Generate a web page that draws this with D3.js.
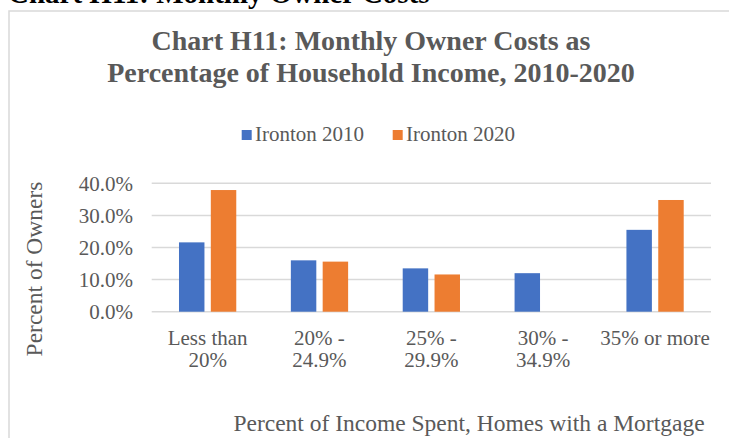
<!DOCTYPE html>
<html>
<head>
<meta charset="utf-8">
<script src="https://cdn.jsdelivr.net/npm/d3@7/dist/d3.min.js"></script>
<style>
  html, body { margin: 0; padding: 0; background: #ffffff; }
  svg { display: block; }
  text { font-family: "Liberation Serif", "Times New Roman", serif; }
</style>
</head>
<body>
<svg id="chart" width="729" height="438"></svg>
<script>
// ---- data ----
const categories = ["Less than\n20%", "20% -\n24.9%", "25% -\n29.9%", "30% -\n34.9%", "35% or more"];
const seriesNames = ["Ironton 2010", "Ironton 2020"];
const ironton2010 = [0.216, 0.160, 0.135, 0.120, 0.255];
const ironton2020 = [0.379, 0.156, 0.116, null, 0.348];
const yTicks = [0, 0.1, 0.2, 0.3, 0.4];
const colors = ["#4472C4", "#ED7D31"];

const pageHeading = "Chart H11: Monthly Owner Costs";
const titleLines = ["Chart H11: Monthly Owner Costs as", "Percentage of Household Income, 2010-2020"];
const yTitle = "Percent of Owners";
const xTitle = "Percent of Income Spent, Homes with a Mortgage";

const table = categories.map((c, i) => ({
  cat: c,
  values: [ironton2010[i], ironton2020[i]]
}));

// ---- layout ----
const svg = d3.select("#chart");
const W = 729, H = 438;
const plot = { left: 151.7, right: 711, top: 183.3, bottom: 311.7 };
const textColor = "#595959";
const gridColor = "#d9d9d9";

svg.append("rect").attr("width", W).attr("height", H).attr("fill", "#fff");

// page heading (cut off at top)
svg.append("text")
  .attr("x", 8).attr("y", 3)
  .attr("font-size", 29).attr("font-weight", "bold")
  .attr("fill", "#000")
  .text(pageHeading);

// chart frame (left and top edges visible)
svg.append("path")
  .attr("d", `M9,${H} L9,11 L${W},11`)
  .attr("fill", "none")
  .attr("stroke", gridColor)
  .attr("stroke-width", 1.5);

// title
const title = svg.append("text")
  .attr("text-anchor", "middle")
  .attr("font-size", 28).attr("font-weight", "bold")
  .attr("fill", textColor);
titleLines.forEach((t, i) => {
  title.append("tspan").attr("x", 371).attr("y", 50 + i * 32).text(t);
});

// scales
const x0 = d3.scaleBand()
  .domain(categories)
  .range([plot.left, plot.right])
  .paddingInner(0.488)
  .paddingOuter(0.244);
const x1 = d3.scaleBand()
  .domain([0, 1])
  .range([0, x0.bandwidth()])
  .paddingInner(0.2);
const y = d3.scaleLinear()
  .domain([0, 0.4])
  .range([plot.bottom, plot.top]);

// gridlines
svg.append("g")
  .selectAll("line")
  .data(yTicks)
  .join("line")
  .attr("x1", plot.left).attr("x2", plot.right)
  .attr("y1", d => y(d)).attr("y2", d => y(d))
  .attr("stroke", gridColor)
  .attr("stroke-width", 1.5);

// y axis
const yAxis = svg.append("g")
  .attr("transform", `translate(${plot.left},0)`)
  .call(d3.axisLeft(y).tickValues(yTicks).tickFormat(d3.format(".1%")).tickSize(0).tickPadding(18.7));
yAxis.select(".domain").remove();
yAxis.selectAll("text")
  .attr("font-family", "'Liberation Serif', 'Times New Roman', serif")
  .attr("font-size", 21)
  .attr("fill", textColor)
  .attr("dy", "0.34em");

// bars
const groups = svg.append("g")
  .selectAll("g")
  .data(table)
  .join("g")
  .attr("transform", d => `translate(${x0(d.cat)},0)`);
groups.selectAll("rect")
  .data(d => d.values.map((v, k) => ({ k, v })).filter(e => e.v != null))
  .join("rect")
  .attr("x", e => x1(e.k))
  .attr("width", x1.bandwidth())
  .attr("y", e => y(e.v))
  .attr("height", e => y(0) - y(e.v))
  .attr("fill", e => colors[e.k]);

// x axis
const xAxis = svg.append("g")
  .attr("transform", `translate(0,${plot.bottom})`)
  .call(d3.axisBottom(x0).tickSize(0).tickFormat(""));
xAxis.select(".domain").remove();
xAxis.selectAll(".tick").each(function(d) {
  const t = d3.select(this).select("text")
    .attr("font-family", "'Liberation Serif', 'Times New Roman', serif")
    .attr("font-size", 21)
    .attr("fill", textColor)
    .attr("y", 0).attr("dy", null);
  d.split("\n").forEach((line, i) => {
    t.append("tspan").attr("x", 0).attr("y", 33.3 + i * 21.7).text(line);
  });
});

// axis titles
svg.append("text")
  .attr("transform", `translate(42,269) rotate(-90)`)
  .attr("text-anchor", "middle")
  .attr("font-size", 23.5)
  .attr("fill", textColor)
  .text(yTitle);

svg.append("text")
  .attr("x", 469).attr("y", 431)
  .attr("text-anchor", "middle")
  .attr("font-size", 23.5)
  .attr("fill", textColor)
  .text(xTitle);

// legend
const legendX = [241.7, 392.7];
const legend = svg.append("g");
seriesNames.forEach((name, k) => {
  legend.append("rect")
    .attr("x", legendX[k]).attr("y", 130)
    .attr("width", 10).attr("height", 10)
    .attr("fill", colors[k]);
  legend.append("text")
    .attr("x", legendX[k] + 13.3).attr("y", 140.7)
    .attr("font-size", 21)
    .attr("fill", textColor)
    .text(name);
});
</script>
</body>
</html>
